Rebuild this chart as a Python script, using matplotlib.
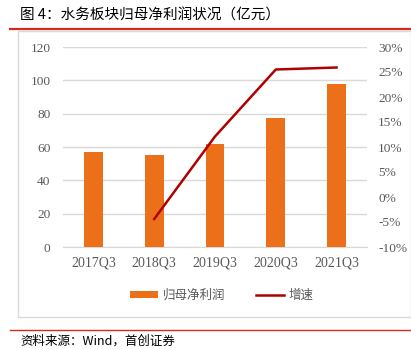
import numpy as np
import matplotlib
matplotlib.use("Agg")
from matplotlib import pyplot as plt
from matplotlib.patches import Rectangle
from matplotlib.lines import Line2D

quarters = ["2017Q3", "2018Q3", "2019Q3", "2020Q3", "2021Q3"]
net_profit = [57.2, 55.0, 61.6, 77.2, 97.6]
growth = [None, -4.4, 12.1, 25.5, 25.9]

cjk = ["Noto Sans CJK SC", "DejaVu Sans"]
serif = ["Liberation Serif", "DejaVu Serif"]
tick_color = "#595959"
bar_color = "#EC6F19"
line_color = "#B00000"

W, H = 411, 349
fig = plt.figure(figsize=(W / 100, H / 100), dpi=100)

# title and frame
fig.text(20 / W, 1 - 16 / H, "图 4：水务板块归母净利润状况（亿元）", family=cjk,
         fontsize=10.5, va="center", ha="left", color="#000000")
fig.add_artist(Line2D([10 / W, 1], [1 - 29 / H, 1 - 29 / H], color="#D52B1E", lw=1.6))
fig.add_artist(Rectangle((18 / W, 1 - 317 / H), (W - 18) / W, (317 - 31) / H,
                         fill=False, edgecolor="#D9D9D9", lw=1.0))
fig.add_artist(Line2D([10 / W, 1], [1 - 330 / H, 1 - 330 / H], color="#D52B1E", lw=1.0))
fig.text(20 / W, 1 - 341 / H, "资料来源：Wind，首创证券", family=cjk,
         fontsize=9, va="center", ha="left", style="italic", color="#000000")

ax = fig.add_axes([63 / W, 1 - 247 / H, (367 - 63) / W, (247 - 47) / H])
x = np.arange(len(quarters))
ax.bar(x, net_profit, width=0.31, color=bar_color, zorder=3, label="归母净利润")
ax.set_xlim(-0.5, len(quarters) - 0.5)
ax.set_ylim(0, 120)
ax.set_yticks(np.arange(0, 121, 20))
ax.grid(axis="y", color="#D9D9D9", lw=1.0, zorder=0)
ax.set_xticks(x)
ax.set_xticklabels(quarters)
for s in ax.spines.values():
    s.set_visible(False)
ax.spines["bottom"].set_visible(True)
ax.spines["bottom"].set_color("#D9D9D9")
ax.tick_params(axis="y", length=0, labelsize=9.6, colors=tick_color, pad=9)
ax.tick_params(axis="x", length=0, labelsize=10, colors=tick_color, pad=7)
for lab in ax.get_xticklabels() + ax.get_yticklabels():
    lab.set_family(serif)

ax2 = ax.twinx()
gx = [i for i, g in enumerate(growth) if g is not None]
gy = [g for g in growth if g is not None]
ax2.plot(gx, gy, color=line_color, lw=1.8, zorder=4, label="增速")
ax2.set_ylim(-10, 30)
ax2.set_yticks(np.arange(-10, 31, 5))
ax2.set_yticklabels([f"{v}%" for v in range(-10, 31, 5)])
for s in ax2.spines.values():
    s.set_visible(False)
ax2.tick_params(length=0, labelsize=9.6, colors=tick_color, pad=8)
for lab in ax2.get_yticklabels():
    lab.set_family(serif)

h1, l1 = ax.get_legend_handles_labels()
h2, l2 = ax2.get_legend_handles_labels()
fig.legend(h1 + h2, l1 + l2, loc="center", bbox_to_anchor=(222 / W, 1 - 295 / H),
           ncol=2, frameon=False, prop={"family": cjk, "size": 9},
           labelcolor=tick_color, handlelength=2.2, handleheight=0.5,
           columnspacing=2.5, handletextpad=0.4)

fig.savefig("out.png", dpi=100)
